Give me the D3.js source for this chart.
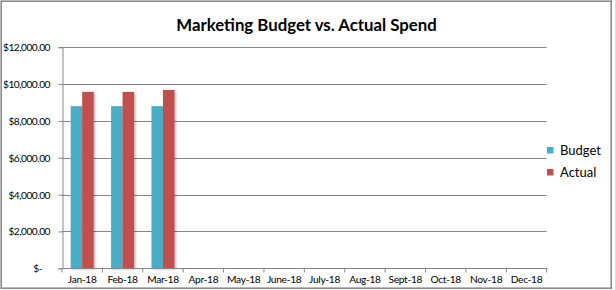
<!DOCTYPE html>
<html>
<head>
<meta charset="utf-8">
<script src="https://cdn.jsdelivr.net/npm/d3@7"></script>
<style>
  html, body { margin: 0; padding: 0; background: #fff; }
  svg { display: block; }
  text { font-family: Lato, "Open Sans", sans-serif; fill: #000; }
</style>
</head>
<body>
<svg id="chart" width="616" height="290"></svg>
<script>
// Monthly marketing figures (only Q1 has been reported so far)
const months = ["Jan-18", "Feb-18", "Mar-18", "Apr-18", "May-18", "June-18",
                "July-18", "Aug-18", "Sept-18", "Oct-18", "Nov-18", "Dec-18"];
const budget = [8800, 8800, 8800, null, null, null, null, null, null, null, null, null];
const actual = [9575, 9575, 9680, null, null, null, null, null, null, null, null, null];
const seriesNames = ["Budget", "Actual"];
const seriesColors = ["#4BACC6", "#C0504D"];
const yTicks = [0, 2000, 4000, 6000, 8000, 10000, 12000];
const yTickLabels = ["$-", "$2,000.00", "$4,000.00", "$6,000.00", "$8,000.00", "$10,000.00", "$12,000.00"];
const title = "Marketing Budget vs. Actual Spend";

const svg = d3.select("#chart");
const W = 616, H = 290;
const plot = { left: 62, right: 546.7, top: 47.2, bottom: 268.3 };
const gridColor = "#868686";

// drop shadow under the columns
const defs = svg.append("defs");
const f = defs.append("filter").attr("id", "shadow")
  .attr("x", "-30%").attr("y", "-10%").attr("width", "160%").attr("height", "120%");
f.append("feDropShadow").attr("dx", 1.5).attr("dy", 1).attr("stdDeviation", 0.9)
  .attr("flood-color", "#000").attr("flood-opacity", 0.28);

// chart frame
svg.append("line").attr("x1", 615.5).attr("x2", 615.5).attr("y1", 0).attr("y2", H)
  .attr("stroke", "#dcdcdc").attr("stroke-width", 1);
svg.append("rect").attr("x", 1.2).attr("y", 1.2).attr("width", 610).attr("height", 287)
  .attr("fill", "#fff").attr("stroke", "#8a8a8a").attr("stroke-width", 1.6);

// title
svg.append("text").attr("x", 306.5).attr("y", 30.5).attr("text-anchor", "middle")
  .style("font-size", "16.8px").style("font-weight", "bold").text(title);

// scales
const x = d3.scaleBand().domain(months).range([plot.left, plot.right]).padding(0);
const xs = d3.scaleBand().domain(seriesNames).range([0, x.bandwidth()])
  .paddingInner(0).paddingOuter(0.755);
const y = d3.scaleLinear().domain([0, 12000]).range([plot.bottom, plot.top]);

// horizontal gridlines
svg.append("g").selectAll("line").data(yTicks.filter(v => v > 0)).join("line")
  .attr("x1", plot.left).attr("x2", plot.right)
  .attr("y1", d => Math.round(y(d)) + 0.5).attr("y2", d => Math.round(y(d)) + 0.5)
  .attr("stroke", gridColor).attr("stroke-width", 1);

// y axis with outward ticks
const yAxis = svg.append("g").attr("transform", `translate(${plot.left + 0.5},0)`)
  .call(d3.axisLeft(y).tickValues(yTicks).tickSize(4).tickPadding(8.5)
    .tickFormat((d, i) => yTickLabels[i]));
yAxis.select(".domain").attr("stroke", gridColor);
yAxis.selectAll(".tick line").attr("stroke", gridColor);
yAxis.selectAll(".tick text").style("font-size", "10.2px").style("letter-spacing", "-0.5px")
  .style("font-family", "Lato, sans-serif")
  .attr("fill", "#000").attr("dx", d => d === 0 ? -8 : 0).attr("dy", "0.34em");

// columns
const rows = months.map((m, i) => ({ month: m, values: [budget[i], actual[i]] }));
const groups = svg.append("g").selectAll("g").data(rows).join("g")
  .attr("transform", d => `translate(${x(d.month)},0)`);
groups.selectAll("rect")
  .data(d => d.values.map((v, j) => ({ name: seriesNames[j], value: v, color: seriesColors[j] }))
    .filter(e => e.value != null))
  .join("rect")
  .attr("x", d => xs(d.name)).attr("width", xs.bandwidth())
  .attr("y", d => y(d.value)).attr("height", d => y(0) - y(d.value))
  .attr("fill", d => d.color).attr("filter", "url(#shadow)");

// x axis with ticks at category boundaries
const xAxisY = Math.round(y(0)) + 0.5;
const xg = svg.append("g");
xg.append("line").attr("x1", plot.left).attr("x2", plot.right + 0.5)
  .attr("y1", xAxisY).attr("y2", xAxisY).attr("stroke", gridColor);
const boundaries = months.map(m => x(m)).concat([x(months[months.length - 1]) + x.bandwidth()]);
xg.selectAll("line.t").data(boundaries).join("line").attr("class", "t")
  .attr("x1", d => d).attr("x2", d => d).attr("y1", xAxisY).attr("y2", xAxisY + 4)
  .attr("stroke", gridColor);
xg.selectAll("text").data(months).join("text")
  .attr("x", d => x(d) + x.bandwidth() / 2).attr("y", 283)
  .attr("text-anchor", "middle").style("font-size", "10.2px").style("letter-spacing", "-0.3px")
  .text(d => d);

// legend
const legend = svg.append("g").selectAll("g").data(seriesNames).join("g")
  .attr("transform", (d, i) => `translate(547,${150 + i * 22})`);
legend.append("rect").attr("x", 0).attr("y", -3).attr("width", 6.5).attr("height", 6.5)
  .attr("fill", (d, i) => seriesColors[i]);
legend.append("text").attr("x", 13).attr("y", 4.8).style("font-size", "13px").text(d => d);
</script>
</body>
</html>
